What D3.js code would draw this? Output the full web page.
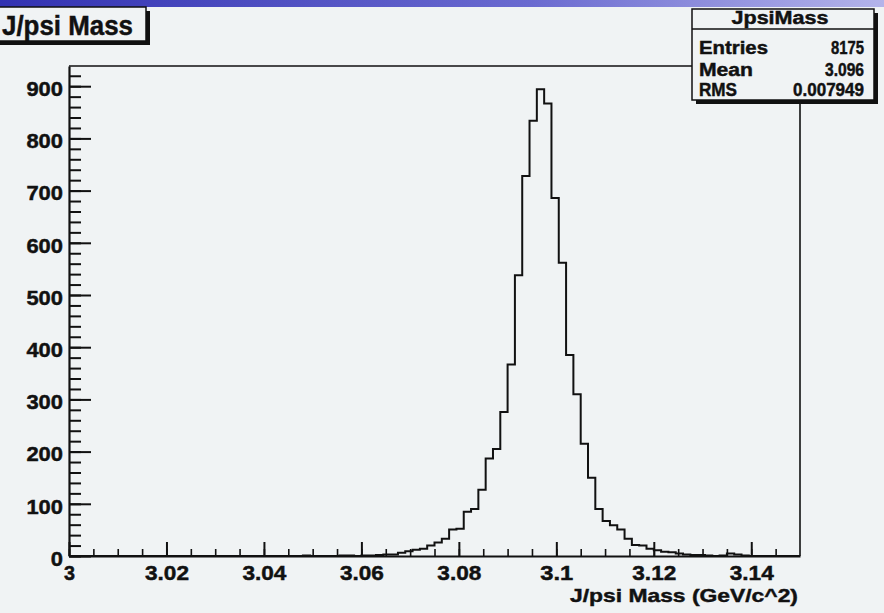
<!DOCTYPE html>
<html>
<head>
<meta charset="utf-8">
<script src="https://cdn.jsdelivr.net/npm/d3@7"></script>
<style>
  body { margin: 0; background: #f0f3f4; }
  svg { display: block; font-family: "Liberation Sans", Arial, sans-serif; font-weight: bold; }
  text { stroke: #111; stroke-width: 0.45px; }
</style>
</head>
<body>
<svg id="chart" width="884" height="613"></svg>
<script>
// histogram JpsiMass: 100 bins from 3.0 to 3.15 (bin width 0.0015)
var binLow = 3.0, binHigh = 3.15, binWidth = 0.0015;
var counts = [
  0, 0, 0, 0, 0, 0, 0, 0, 0, 0,
  0, 0, 0, 0, 0, 0, 0, 0, 0, 0,
  0, 0, 0, 0, 0, 0, 0, 0, 0, 0,
  0, 0, 1, 0, 0, 0, 0, 1, 1, 0,
  1, 1, 2, 3, 3, 6, 9, 12, 14, 20,
  26, 33, 51, 52, 85, 90, 127, 187, 205, 276,
  367, 538, 728, 834, 894, 867, 686, 562, 385, 310,
  215, 150, 90, 67, 59, 51, 33, 21, 20, 14,
  11, 8, 7, 5, 3, 2, 2, 1, 0, 1,
  5, 3, 1, 0, 0, 0, 0, 0, 0, 0
];
var xTicks = [3, 3.02, 3.04, 3.06, 3.08, 3.1, 3.12, 3.14];
var yTicks = [0, 100, 200, 300, 400, 500, 600, 700, 800, 900];
var statNames = ["Entries", "Mean", "RMS"];
var statValues = ["8175", "3.096", "0.007949"];

var frame = { left: 69, right: 800, top: 66, bottom: 556 };
var yMax = 938.7; // ROOT puts 5% headroom above the peak

var svg = d3.select("#chart");

// slide header strip at the very top
var grad = svg.append("defs").append("linearGradient").attr("id", "topbar");
grad.append("stop").attr("offset", "0%").attr("stop-color", "#3232b2");
grad.append("stop").attr("offset", "60%").attr("stop-color", "#6a6ad0");
grad.append("stop").attr("offset", "100%").attr("stop-color", "#b4b4ea");
svg.append("rect").attr("x", 0).attr("y", 0).attr("width", 884).attr("height", 7)
  .attr("fill", "url(#topbar)");

var x = d3.scaleLinear().domain([binLow, binHigh]).range([frame.left, frame.right]);
var y = d3.scaleLinear().domain([0, yMax]).range([frame.bottom, frame.top]);

// frame top and right
svg.append("path")
  .attr("d", "M" + frame.left + "," + frame.top + "H" + frame.right + "V" + frame.bottom)
  .attr("fill", "none").attr("stroke", "#111").attr("stroke-width", 1.6);

// histogram outline
var pts = [[binLow, 0]];
counts.forEach(function(c, i) {
  var lo = binLow + i * binWidth;
  pts.push([lo, c]);
  pts.push([lo + binWidth, c]);
});
pts.push([binHigh, 0]);
svg.append("path")
  .datum(pts)
  .attr("d", d3.line().x(function(d) { return x(d[0]); }).y(function(d) { return y(d[1]); }))
  .attr("fill", "none").attr("stroke", "#111").attr("stroke-width", 2);

// minor ticks
svg.append("g").attr("transform", "translate(" + frame.left + ",0)")
  .call(d3.axisLeft(y).tickValues(d3.range(0, 940, 20)).tickSize(-12).tickSizeOuter(0).tickFormat(""))
  .call(function(g) { g.select(".domain").remove(); g.selectAll("line").attr("stroke", "#111").attr("stroke-width", 2); });
svg.append("g").attr("transform", "translate(0," + frame.bottom + ")")
  .call(d3.axisBottom(x).tickValues(d3.range(0, 30).map(function(i) { return binLow + i * 0.005; }))
    .tickSize(-7).tickSizeOuter(0).tickFormat(""))
  .call(function(g) { g.select(".domain").remove(); g.selectAll("line").attr("stroke", "#111").attr("stroke-width", 1.6); });

// major ticks + labels
var yAxis = svg.append("g").attr("transform", "translate(" + frame.left + ",0)")
  .call(d3.axisLeft(y).tickValues(yTicks).tickSize(-22).tickSizeOuter(0).tickPadding(6));
yAxis.selectAll("line").attr("stroke", "#111").attr("stroke-width", 2);
yAxis.select(".domain").attr("stroke", "#111").attr("stroke-width", 2.2);
yAxis.selectAll("text").attr("dy", "0.46em").attr("fill", "#111")
  .style("font-size", "20px").style("font-family", "inherit").style("font-weight", "bold")
  .attr("textLength", function(d) { return String(d).length * 12.2; })
  .attr("lengthAdjust", "spacingAndGlyphs");

var xAxis = svg.append("g").attr("transform", "translate(0," + frame.bottom + ")")
  .call(d3.axisBottom(x).tickValues(xTicks).tickSize(-14).tickSizeOuter(0).tickPadding(10)
    .tickFormat(function(d) { return String(+d.toFixed(3)); }));
xAxis.selectAll("line").attr("stroke", "#111").attr("stroke-width", 2);
xAxis.select(".domain").attr("stroke", "#111").attr("stroke-width", 2.2);
xAxis.selectAll("text").attr("fill", "#111")
  .style("font-size", "20px").style("font-family", "inherit").style("font-weight", "bold")
  .attr("textLength", function(d) { var s = String(+d.toFixed(3)); return s.length > 1 ? s.length * 11 : 11; })
  .attr("lengthAdjust", "spacingAndGlyphs");

// axis title
svg.append("text").attr("x", 798).attr("y", 602).attr("text-anchor", "end")
  .attr("font-size", 19).attr("fill", "#111")
  .attr("textLength", 228).attr("lengthAdjust", "spacingAndGlyphs")
  .text("J/psi Mass (GeV/c^2)");

// title pave with shadow
svg.append("rect").attr("x", -20).attr("y", 11).attr("width", 170).attr("height", 34).attr("fill", "#111");
svg.append("rect").attr("x", -20).attr("y", 7).attr("width", 166).attr("height", 34)
  .attr("fill", "#f0f3f4").attr("stroke", "#111").attr("stroke-width", 1.5);
svg.append("text").attr("x", 2).attr("y", 35).attr("font-size", 27).attr("fill", "#111")
  .attr("textLength", 131).attr("lengthAdjust", "spacingAndGlyphs")
  .text("J/psi Mass");

// stats box with shadow
var sb = { x: 692, y: 9, w: 182, h: 91 };
svg.append("rect").attr("x", sb.x + 4).attr("y", sb.y + 4).attr("width", sb.w).attr("height", sb.h).attr("fill", "#111");
svg.append("rect").attr("x", sb.x).attr("y", sb.y).attr("width", sb.w).attr("height", sb.h)
  .attr("fill", "#f0f3f4").attr("stroke", "#111").attr("stroke-width", 1.5);
svg.append("line").attr("x1", sb.x).attr("x2", sb.x + sb.w).attr("y1", 29).attr("y2", 29)
  .attr("stroke", "#111").attr("stroke-width", 1.5);
svg.append("text").attr("x", 780).attr("y", 23.5).attr("text-anchor", "middle")
  .attr("font-size", 18).attr("fill", "#111")
  .attr("textLength", 97).attr("lengthAdjust", "spacingAndGlyphs").text("JpsiMass");

var nameLen = [69, 54, 38], valLen = [33, 39, 71], rowY = [54, 75.5, 96];
statNames.forEach(function(n, i) {
  svg.append("text").attr("x", 699).attr("y", rowY[i]).attr("font-size", 18).attr("fill", "#111")
    .attr("textLength", nameLen[i]).attr("lengthAdjust", "spacingAndGlyphs").text(n);
  svg.append("text").attr("x", 864).attr("y", rowY[i]).attr("text-anchor", "end")
    .attr("font-size", 18).attr("fill", "#111")
    .attr("textLength", valLen[i]).attr("lengthAdjust", "spacingAndGlyphs").text(statValues[i]);
});
</script>
</body>
</html>
